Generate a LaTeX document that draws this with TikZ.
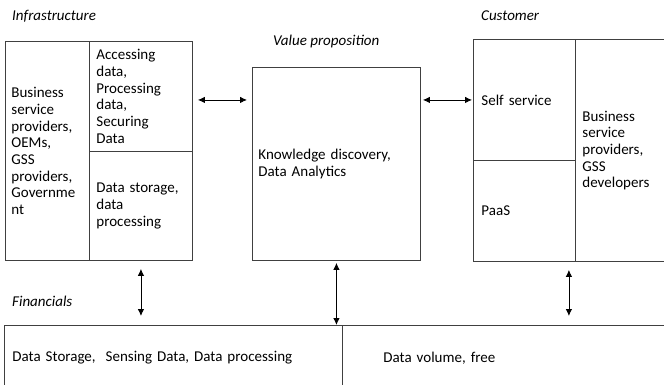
\documentclass[tikz,border=0pt]{standalone}
\usepackage{fontspec}
\setmainfont{Carlito}
\usetikzlibrary{arrows.meta}
\begin{document}
\begin{tikzpicture}[x=1pt,y=-1pt,
  cell/.style={draw=black!75,line width=0.9pt,anchor=north west,inner ysep=0pt,
    align=left,font=\fontsize{15}{16.7}\selectfont},
  head/.style={anchor=west,inner sep=0pt,font=\fontsize{15}{16}\selectfont\itshape},
  arr/.style={{Latex[length=7pt,width=6.5pt]}-{Latex[length=7pt,width=6.5pt]},line width=0.8pt}]
  \useasboundingbox (0,0) rectangle (664,385);

  \foreach \nm/\x/\y/\w/\h/\sep/\txt [evaluate=\w as \tw using \w-2*\sep] in {%
    bizL/5/41/84/219/6/{Business\\service\\providers,\\OEMs,\\GSS\\providers,\\Governme\\nt},
    access/89/41/103/110/7/{Accessing\\data,\\Processing\\data,\\Securing\\Data},
    storage/89/151/103/109/7/{Data storage,\\data\\processing},
    value/252/67/168/193/6/{Knowledge discovery,\\Data Analytics},
    self/473/39/102/121/8/{Self service},
    paas/473/160/102/101/8/{PaaS},
    bizR/575/39/150/222/7/{Business\\service\\providers,\\GSS\\developers},
    sensing/4/325/338/65/8/{Data Storage,\ \ Sensing Data, Data processing},
    volume/342/325/360/65/41/{Data volume, free}} {
    \node[cell,inner xsep=\sep pt,text width=\tw pt,minimum height=\h pt] (\nm) at (\x,\y) {\txt};
  }

  \node[head] (infraT) at (12,16) {Infrastructure};
  \node[head] (valueT) at (273,42) {Value proposition};
  \node[head] (custT) at (481,16) {Customer};
  \node[head] (finT) at (12,301) {Financials};

  \draw[arr,shorten <=5pt,shorten >=5pt] (access.east |- self.west) -- (value.west |- self.west);
  \draw[arr,shorten <=2pt,shorten >=1pt] (value.east |- self.west) -- (self.west);
  \draw[arr,shorten <=8pt,shorten >=9pt] (storage.south) -- (storage.south |- sensing.north);
  \draw[arr,shorten <=2pt] (value.south) -- (value.south |- sensing.north);
  \draw[arr,shorten <=8pt,shorten >=9pt] ([xshift=-7pt]paas.south east) -- ([xshift=-7pt]paas.south east |- sensing.north);
\end{tikzpicture}
\end{document}
